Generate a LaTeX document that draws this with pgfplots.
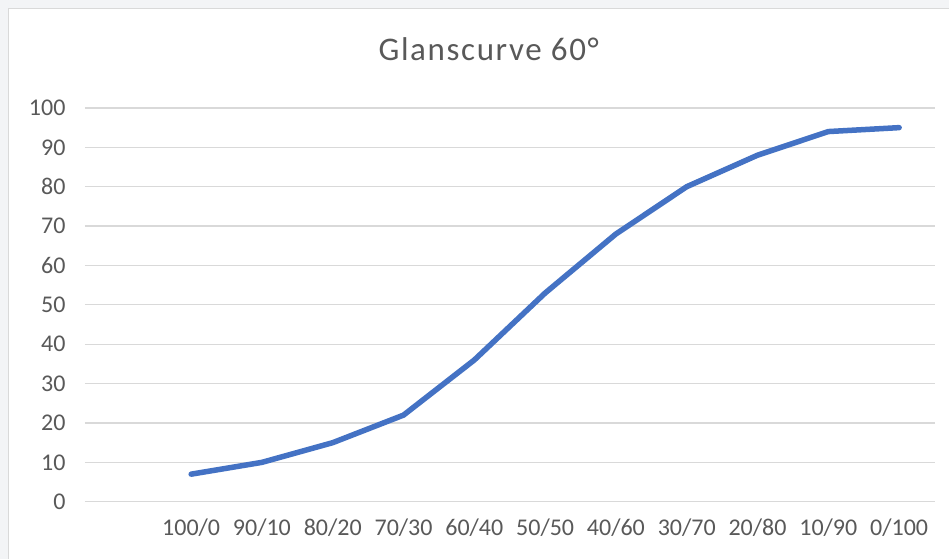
\documentclass[border=0pt]{standalone}
\usepackage{fontspec}
\setmainfont{Carlito}
\usepackage{pgfplots}
\pgfplotsset{compat=1.18}
\definecolor{txt}{HTML}{595959}
\definecolor{gridc}{HTML}{D9D9D9}
\definecolor{linec}{HTML}{4472C4}
\definecolor{band}{HTML}{F3F4F6}
\definecolor{framec}{HTML}{D9D9D9}
\begin{document}
\begin{tikzpicture}[x=1pt,y=1pt]
\fill[band] (0,0) rectangle (949,559);
\fill[white] (8,0) rectangle (949,551);
\draw[framec, line width=1pt] (8.5,0) -- (8.5,550.5) -- (949,550.5);
\useasboundingbox (0,0) rectangle (949,559);
\node[text=txt, anchor=base, font=\fontsize{33}{38}\selectfont\addfontfeature{LetterSpace=5}] at (489,498) {Glanscurve 60°};
\begin{axis}[at={(85pt,57pt)}, anchor=south west, width=850pt, height=394pt, scale only axis,
  xmin=0.5, xmax=12.5, ymin=0, ymax=100,
  ytick={0,10,...,100}, xtick={2,...,12},
  xticklabels={100/0,90/10,80/20,70/30,60/40,50/50,40/60,30/70,20/80,10/90,0/100},
  axis line style={draw=none}, major tick length=0,
  ymajorgrids, grid style={gridc, line width=1.2pt},
  ticklabel style={font=\fontsize{24}{28}\selectfont, text=txt},
  yticklabel style={anchor=east, xshift=-16pt},
  xticklabel style={anchor=north, yshift=-14pt},
  /pgf/number format/assume math mode=true,
  clip=false]
\addplot[linec, line width=5.5pt, line join=round, line cap=round] coordinates {
  (2,7) (3,10) (4,15) (5,22) (6,36) (7,53) (8,68) (9,80) (10,88) (11,94) (12,95)};
\end{axis}
\end{tikzpicture}
\end{document}
